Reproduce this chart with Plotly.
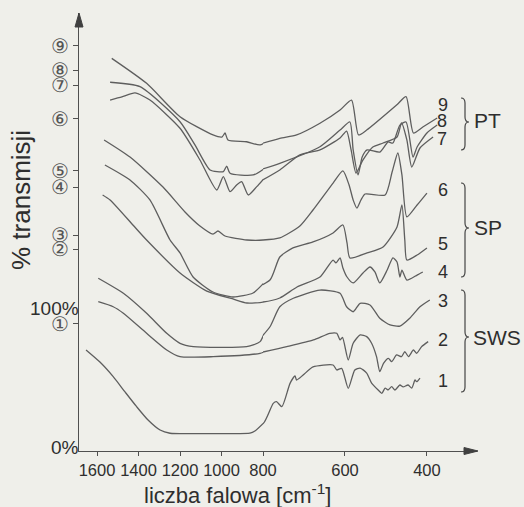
import numpy as np
import plotly.graph_objects as go

# ---------------- data (wavenumber [cm-1], transmission [% on the common offset scale]) -------------
wn_1 = [1653, 1586, 1522, 1465, 1409, 1354, 1296, 1248, 1150, 1000, 863, 839, 799, 775, 767, 754, 734, 722, 718, 702,
        678, 629, 620, 608, 592, 576, 563, 547, 535, 519, 510, 502, 495, 486, 478, 466, 458, 446, 437, 429, 425, 417]
t_1 = [69.8, 61.1, 50.6, 39.6, 29.0, 19.4, 12.2, 9.9, 9.6, 9.6, 9.9, 11.5, 17.0, 31.4, 32.6, 29.0, 45.8, 51.1, 48.2, 51.8,
       57.6, 59.0, 55.4, 56.6, 42.2, 55.4, 56.8, 53.2, 46.0, 41.0, 38.6, 42.4, 41.0, 43.4, 41.0, 44.6, 43.2, 44.6, 42.4, 48.2, 47.0, 49.6]

wn_2 = [1594, 1522, 1473, 1361, 1264, 1200, 1040, 814, 742, 677, 637, 620, 612, 606, 592, 580, 563, 547, 535, 523,
        515, 506, 494, 486, 474, 462, 454, 445, 433, 425, 413, 397]
t_2 = [104.5, 100.9, 96.2, 81.8, 69.8, 65.0, 65.0, 67.4, 72.2, 77.0, 81.8, 81.8, 77.0, 78.9, 62.6, 74.6, 80.6, 79.4, 74.6, 65.0,
       54.2, 60.2, 63.8, 61.4, 66.2, 65.0, 68.6, 65.0, 69.8, 67.4, 72.2, 75.8]

wn_3 = [1594, 1473, 1361, 1264, 1200, 1136, 879, 814, 783, 759, 726, 661, 612, 596, 580, 563, 539, 515, 490, 466, 442, 417, 393]
t_3 = [121.4, 110.6, 96.2, 81.8, 74.6, 72.2, 72.2, 75.8, 86.5, 100.9, 107.0, 112.9, 110.6, 100.9, 97.3, 103.4, 102.2, 92.6,
       87.8, 87.0, 92.6, 100.9, 105.8]

wn_4 = [1573, 1537, 1427, 1361, 1200, 1071, 945, 877, 800, 759, 717, 661, 629, 622, 612, 605, 595, 580, 556, 539,
        527, 515, 497, 483, 473, 466, 461, 449, 424, 410]
t_4 = [181.3, 177.7, 159.7, 148.9, 125.2, 112.2, 106.5, 103.6, 104.3, 107.2, 115.1, 122.3, 134.5, 132.4, 136.0, 128.8, 122.3,
       118.0, 125.2, 129.5, 125.9, 118.0, 127.3, 136.0, 133.1, 122.3, 127.3, 120.1, 123.7, 125.9]

wn_5 = [1562, 1441, 1345, 1248, 1200, 1137, 1041, 945, 848, 783, 759, 727, 678, 629, 605, 595, 588, 546, 507, 473,
        461, 454, 449, 424, 400]
t_5 = [202.9, 192.1, 177.7, 148.9, 139.6, 122.3, 111.5, 107.9, 110.8, 120.1, 136.7, 143.2, 147.5, 154.0, 159.7, 146.8, 136.0,
       139.6, 143.9, 158.3, 174.1, 148.9, 134.5, 138.1, 143.2]

wn_6 = [1566, 1441, 1282, 1176, 1104, 1041, 1017, 983, 877, 800, 759, 710, 678, 629, 605, 590, 580, 571, 561, 551,
        502, 485, 471, 461, 449, 424, 400]
t_6 = [220.9, 208.6, 187.0, 169.1, 159.0, 153.2, 155.4, 151.8, 148.9, 148.9, 150.4, 159.0, 170.5, 189.9, 198.6, 188.5, 177.7,
       171.9, 177.7, 182.0, 181.3, 197.8, 211.5, 195.7, 165.5, 174.1, 182.7]

wn_7 = [1537, 1480, 1417, 1345, 1200, 1104, 1023, 991, 959, 927, 903, 871, 830, 759, 710, 661, 612, 596, 585, 573,
        556, 532, 507, 473, 462, 449, 437, 417, 385]
t_7 = [249.6, 251.8, 254.7, 249.6, 229.3, 206.5, 184.9, 194.5, 183.7, 188.5, 190.9, 181.3, 187.3, 199.3, 210.1, 213.7, 222.3,
       227.3, 213.7, 197.1, 206.5, 215.8, 218.7, 223.0, 233.1, 220.9, 201.4, 215.1, 223.0]

wn_8 = [1537, 1393, 1200, 1128, 1055, 991, 975, 959, 847, 759, 661, 612, 588, 580, 568, 558, 546, 515, 495, 483,
        466, 451, 434, 424, 400, 375]
t_8 = [262.4, 259.2, 234.0, 217.3, 199.3, 198.1, 202.1, 196.9, 195.7, 204.1, 216.0, 228.0, 233.8, 213.7, 195.7, 208.6, 213.7,
       212.2, 219.4, 218.7, 231.6, 233.8, 208.6, 215.8, 225.9, 231.6]

wn_9 = [1529, 1361, 1200, 1041, 998, 983, 969, 879, 814, 759, 718, 661, 612, 584, 567, 547, 474, 451, 433, 410, 375]
t_9 = [279.6, 261.6, 237.6, 224.5, 223.0, 225.9, 220.9, 219.6, 217.3, 222.1, 224.5, 232.9, 242.4, 249.6, 224.5, 228.0,
       246.0, 252.0, 225.9, 230.2, 236.7]

x_ticks_high = [1600, 1400, 1200, 1000, 800]
x_ticks_low = [600, 400]
y_tick_vals = [88.5, 142.4, 152.5, 187.0, 198.6, 236.0, 260.4, 271.2, 288.5]
y_tick_text = ["①", "②", "③", "④", "⑤", "⑥", "⑦", "⑧", "⑨"]
y_pct_vals = [0, 100]
y_pct_text = ["0%", "100%"]

curve_labels = ["1", "2", "3", "4", "5", "6", "7", "8", "9"]
group_labels = ["PT", "SP", "SWS"]

# ---------------- figure ----------------
W, H = 524, 507
ML, MR, MT, MB = 79, 47, 13, 56
PW, PH = W - ML - MR, H - MT - MB
X_BREAK = 800
LEFT_FRAC = (263 - ML) / PW

LINE_COL = "#5e5e5e"
TXT_COL = "#2e2e2e"
FONT = "Liberation Sans, Arial, sans-serif"


def px(x, y):
    """pixel position on the page -> paper coordinates (for decorations only)"""
    return (x - ML) / PW, (H - MB - y) / PH


fig = go.Figure()
curves = [(wn_1, t_1), (wn_2, t_2), (wn_3, t_3), (wn_4, t_4), (wn_5, t_5),
          (wn_6, t_6), (wn_7, t_7), (wn_8, t_8), (wn_9, t_9)]
line_style = dict(color=LINE_COL, width=1.3, shape="spline", smoothing=0.6)
for wn, t in curves:
    wn = np.asarray(wn, float)
    t = np.asarray(t, float)
    hi = np.where(wn >= X_BREAK)[0]
    lo = np.where(wn <= X_BREAK)[0]
    if len(hi):
        idx = list(hi)
        if hi[-1] + 1 < len(wn):
            idx.append(hi[-1] + 1)
        fig.add_trace(go.Scatter(x=wn[idx], y=t[idx], mode="lines", xaxis="x", yaxis="y",
                                 line=line_style, showlegend=False, hoverinfo="skip"))
    if len(lo):
        idx = list(lo)
        if lo[0] - 1 >= 0:
            idx.insert(0, lo[0] - 1)
        fig.add_trace(go.Scatter(x=wn[idx], y=t[idx], mode="lines", xaxis="x2", yaxis="y",
                                 line=line_style, showlegend=False, hoverinfo="skip"))

x_hi_left = X_BREAK + (263 - ML) * 4.82
x_lo_right = X_BREAK - (ML + PW - 263) * 2.44
y_lo = (447 - (H - MB)) * 0.7194
y_hi = (447 - MT) * 0.7194

axis_common = dict(showgrid=False, zeroline=False, showline=True, linecolor="#505050", linewidth=1.3,
                   ticks="outside", ticklen=4, tickcolor="#505050", tickwidth=1.2, tickangle=0,
                   tickfont=dict(family=FONT, size=16.5, color=TXT_COL))

fig.update_layout(
    width=W, height=H,
    margin=dict(l=ML, r=MR, t=MT, b=MB, pad=0),
    paper_bgcolor="#efefea", plot_bgcolor="#efefea",
    xaxis=dict(domain=[0, LEFT_FRAC], range=[x_hi_left, X_BREAK - 0.01], tickmode="array",
               tickvals=x_ticks_high, ticktext=[str(v) for v in x_ticks_high], anchor="y", **axis_common),
    xaxis2=dict(domain=[LEFT_FRAC, 1], range=[X_BREAK, x_lo_right], tickmode="array",
                tickvals=x_ticks_low, ticktext=[str(v) for v in x_ticks_low], anchor="y", **axis_common),
    yaxis=dict(domain=[0, 1], range=[y_lo, y_hi], tickmode="array", tickvals=y_tick_vals,
               ticktext=y_tick_text,
               showgrid=False, zeroline=False, showline=True, linecolor="#505050", linewidth=1.3,
               ticks="outside", ticklen=5, tickcolor="#505050", tickwidth=1.2,
               tickfont=dict(family=FONT, size=20, color="#555555")),
)

shapes = []
# axis arrow heads
a, b = px(79, 13); c, d = px(75, 27); e, f = px(83, 27)
shapes.append(dict(type="path", xref="paper", yref="paper", path=f"M {a} {b} L {c} {d} L {e} {f} Z",
                   fillcolor="#404040", line=dict(color="#404040", width=1)))
a, b = px(478, 451); c, d = px(464, 447.5); e, f = px(464, 454.5)
shapes.append(dict(type="path", xref="paper", yref="paper", path=f"M {a} {b} L {c} {d} L {e} {f} Z",
                   fillcolor="#404040", line=dict(color="#404040", width=1)))


def brace(x, y1, y2, ym, w=4, r=5):
    pts = [
        ("M", [(x, y1)]),
        ("Q", [(x + w, y1), (x + w, y1 + r)]),
        ("L", [(x + w, ym - r)]),
        ("Q", [(x + w, ym), (x + 2 * w, ym)]),
        ("Q", [(x + w, ym), (x + w, ym + r)]),
        ("L", [(x + w, y2 - r)]),
        ("Q", [(x + w, y2), (x, y2)]),
    ]
    s = []
    for cmd, pp in pts:
        s.append(cmd + " " + " ".join("%.5f,%.5f" % px(u, v) for u, v in pp))
    return dict(type="path", xref="paper", yref="paper", path=" ".join(s),
                line=dict(color="#444", width=1.2))


shapes.append(brace(461, 98, 150, 122))
shapes.append(brace(461, 183, 277, 228))
shapes.append(brace(461, 290, 392, 337))
fig.update_layout(shapes=shapes)

ann = []
# percent labels on the y axis (right edge touching the axis)
for v, s in zip(y_pct_vals, y_pct_text):
    ann.append(dict(x=0, y=v, xref="paper", yref="y", text=s, showarrow=False, xshift=2,
                    font=dict(family=FONT, size=19, color=TXT_COL), xanchor="right", yanchor="middle"))
label_pos = [(443, 381), (443, 340), (443, 301), (443, 272), (443, 244), (443, 190), (442, 139), (442, 121), (443, 105)]
for lab, (x, y) in zip(curve_labels, label_pos):
    u, v = px(x, y)
    ann.append(dict(x=u, y=v, xref="paper", yref="paper", text=lab, showarrow=False,
                    font=dict(family=FONT, size=18, color=TXT_COL), xanchor="center", yanchor="middle"))
for lab, (x, y) in zip(group_labels, [(487, 120), (488, 227), (497, 337)]):
    u, v = px(x, y)
    ann.append(dict(x=u, y=v, xref="paper", yref="paper", text=lab, showarrow=False,
                    font=dict(family=FONT, size=21, color=TXT_COL), xanchor="center", yanchor="middle"))
u, v = px(237, 494)
ann.append(dict(x=u, y=v, xref="paper", yref="paper", text="liczba falowa [cm<sup>-1</sup>]", showarrow=False,
                font=dict(family=FONT, size=22, color=TXT_COL), xanchor="center", yanchor="middle"))
u, v = px(21, 200)
ann.append(dict(x=u, y=v, xref="paper", yref="paper", text="% transmisji", showarrow=False, textangle=-90,
                font=dict(family=FONT, size=26, color=TXT_COL), xanchor="center", yanchor="middle"))
fig.update_layout(annotations=ann)

fig.write_html("out.html")
